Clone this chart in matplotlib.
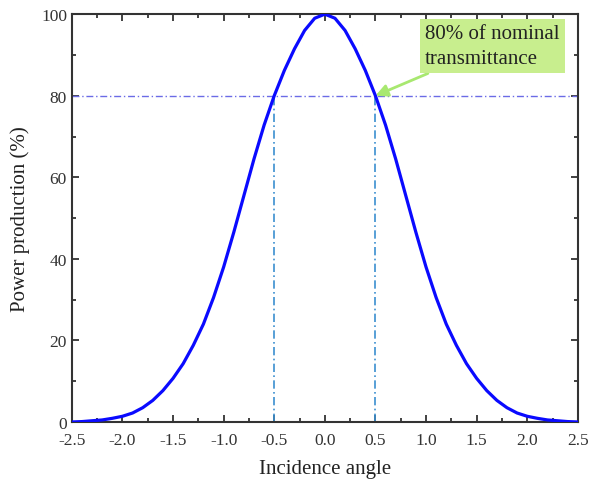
import numpy as np
import matplotlib.pyplot as plt
from matplotlib.ticker import MultipleLocator, FormatStrFormatter

# curve (step 0.1)
angle = [-2.5, -2.4, -2.3, -2.2, -2.1, -2.0, -1.9, -1.8, -1.7, -1.6,
         -1.5, -1.4, -1.3, -1.2, -1.1, -1.0, -0.9, -0.8, -0.7, -0.6,
         -0.5, -0.4, -0.3, -0.2, -0.1, 0.0, 0.1, 0.2, 0.3, 0.4,
         0.5, 0.6, 0.7, 0.8, 0.9, 1.0, 1.1, 1.2, 1.3, 1.4,
         1.5, 1.6, 1.7, 1.8, 1.9, 2.0, 2.1, 2.2, 2.3, 2.4, 2.5]
power = [0.0, 0.1, 0.3, 0.5, 0.9, 1.4, 2.2, 3.5, 5.3, 7.7,
         10.7, 14.3, 18.8, 24.0, 30.5, 38.0, 46.5, 55.5, 64.5, 72.8,
         80.0, 86.2, 91.5, 96.0, 99.0, 100.0, 99.0, 96.0, 91.5, 86.2,
         80.0, 72.8, 64.5, 55.5, 46.5, 38.0, 30.5, 24.0, 18.8, 14.3,
         10.7, 7.7, 5.3, 3.5, 2.2, 1.4, 0.9, 0.5, 0.3, 0.1, 0.0]

level = 80
half_angle = 0.5

plt.rcParams['font.family'] = ['Liberation Serif', 'DejaVu Serif']

fig = plt.figure(figsize=(5.89, 4.89), dpi=100)
ax = fig.add_axes([0.122, 0.135, 0.859, 0.834])

ax.plot(angle, power, color='#0a0aff', lw=2.3, zorder=3)
ax.axhline(level, color='#6b6be6', lw=1.0, ls=(0, (5, 2, 1, 2)), zorder=2)
for a in (-half_angle, half_angle):
    ax.plot([a, a], [0, level], color='#3b8fcf', lw=1.2, ls=(0, (5, 2, 1, 2)), zorder=2)

ax.annotate('80% of nominal\ntransmittance', xy=(half_angle, level),
            xytext=(0.99, 97.6), fontsize=15, ha='left', va='top',
            linespacing=1.45, color='#222222',
            bbox=dict(boxstyle='square,pad=0.25', fc='#c8ee8e', ec='none'),
            arrowprops=dict(arrowstyle='-|>', color='#a8e870', lw=2,
                            mutation_scale=18, shrinkA=0, shrinkB=0))

ax.set_xlim(-2.5, 2.5)
ax.set_ylim(0, 100)
ax.xaxis.set_major_locator(MultipleLocator(0.5))
ax.xaxis.set_minor_locator(MultipleLocator(0.25))
ax.yaxis.set_major_locator(MultipleLocator(20))
ax.yaxis.set_minor_locator(MultipleLocator(10))
ax.xaxis.set_major_formatter(FormatStrFormatter('%.1f'))
ax.tick_params(which='both', direction='in', top=True, right=True,
               colors='#333333', labelsize=12.5, width=1.3)
ax.tick_params(which='major', length=5)
ax.tick_params(which='minor', length=3)
ax.tick_params(axis='x', pad=7)
for s in ax.spines.values():
    s.set_color('#333333')
    s.set_linewidth(1.5)

ax.set_xlabel('Incidence angle', fontsize=15, color='#222222', labelpad=8)
ax.set_ylabel('Power production (%)', fontsize=15, color='#222222', labelpad=8)

fig.savefig('out.png', dpi=100)
